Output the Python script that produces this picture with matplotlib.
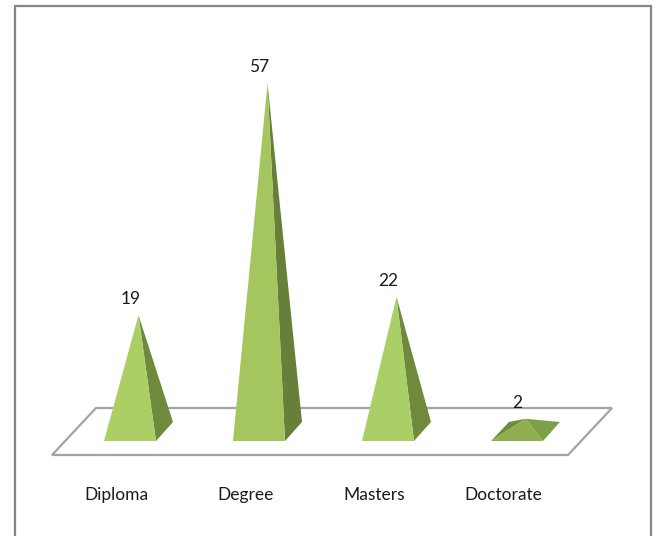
import matplotlib
matplotlib.use("Agg")
import matplotlib.pyplot as plt
from matplotlib.patches import Polygon

categories = ["Diploma", "Degree", "Masters", "Doctorate"]
values = [19, 57, 22, 2]
value_labels = ["19", "57", "22", "2"]

front_colors = ["#abcf65", "#a5c55f", "#abcf67", "#8fae50"]
side_colors = ["#6f8a3d", "#677f38", "#6f8a3d", "#7f9e48"]

# 1 unit of x is one category step (129 px), 1 unit of y is one value (6.1 px)
XSTEP = 129.0
YSTEP = 6.1
X0 = 138.5
Y0 = 431.0
W = 657
H = 536


def dx(px):
    return px / XSTEP


def dy(px):
    return px / YSTEP


plt.rcParams["font.family"] = ["Lato", "DejaVu Sans"]

fig = plt.figure(figsize=(W / 100, H / 100), dpi=100)
ax = fig.add_axes([0, 0, 1, 1])
ax.set_xlim(-X0 / XSTEP, (W - X0) / XSTEP)
ax.set_ylim((Y0 - H) / YSTEP, Y0 / YSTEP)
ax.axis("off")

# outer chart frame, runs off the bottom of the picture
ax.plot([dx(15 - X0), dx(15 - X0), dx(651 - X0), dx(651 - X0)],
        [dy(Y0 - H), dy(Y0 - 6), dy(Y0 - 6), dy(Y0 - H)],
        color="#858585", lw=1.6, solid_joinstyle="miter", zorder=1)

# floor of the 3d chart
floor = [(52, 455), (568, 455), (612, 408), (96, 408)]
ax.add_patch(Polygon([(dx(a - X0), dy(Y0 - b)) for a, b in floor], closed=True,
                     facecolor="white", edgecolor="#a3a3a3", lw=1.6, zorder=2))

for i, (name, val) in enumerate(zip(categories, values)):
    cx = i
    front_y = dy(-10)
    back_y = dy(9)
    fl = (cx - dx(34.5), front_y)
    fr = (cx + dx(17.5), front_y)
    br = (cx + dx(34.5), back_y)
    bl = (cx - dx(16.5), back_y)
    apex = (cx, val)
    if val < 5:
        # flat pyramid, the left face can be seen too
        ax.add_patch(Polygon([fl, bl, apex], closed=True, color="#6f8c3a", lw=0, zorder=3))
    ax.add_patch(Polygon([fr, br, apex], closed=True, color=side_colors[i], lw=0, zorder=3))
    ax.add_patch(Polygon([fl, fr, apex], closed=True, color=front_colors[i], lw=0, zorder=4))
    ax.text(cx - dx(8), val + dy(16), value_labels[i], ha="center", va="center",
            fontsize=12.5, color="#1a1a1a", zorder=5)
    ax.text(cx - dx(22), dy(Y0 - 495), name, ha="center", va="center",
            fontsize=12.5, color="#1a1a1a", zorder=5)

fig.savefig("out.png", dpi=100, facecolor="white")
